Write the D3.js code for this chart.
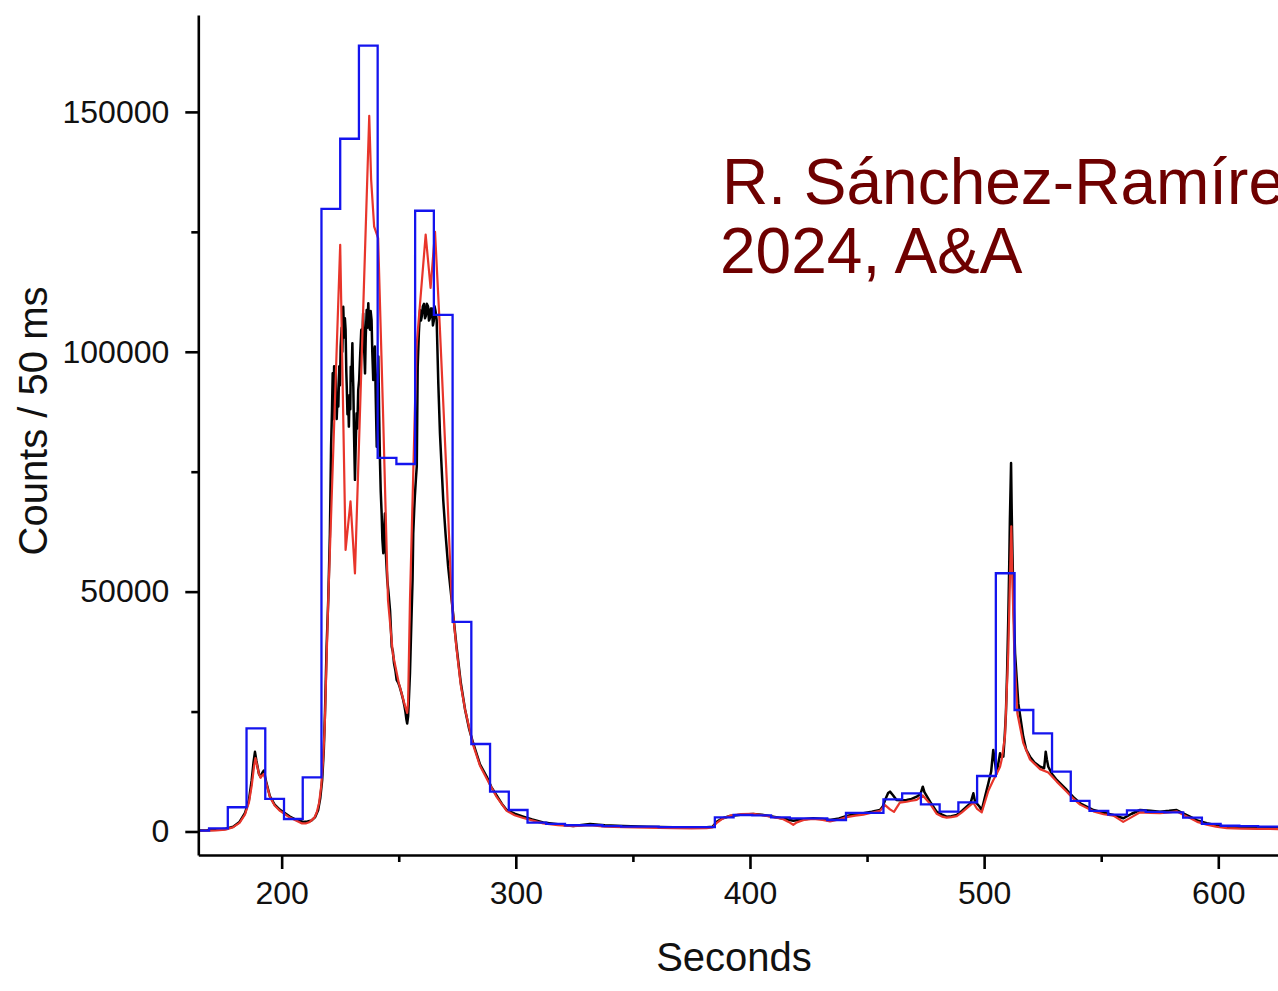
<!DOCTYPE html>
<html>
<head>
<meta charset="utf-8">
<script src="https://cdn.jsdelivr.net/npm/d3@7"></script>
<style>
  body { margin: 0; background: #fff; }
  svg { display: block; font-family: 'Liberation Sans', Arial, sans-serif; }
</style>
</head>
<body>
<svg id="chart" width="1278" height="991"></svg>
<script>
// 8 s binned counts (blue), bin start times
const binStart = [161, 169, 177, 185, 193, 201, 209, 217, 225, 233, 241, 249, 257, 265, 273, 281, 289, 297,
  305, 313, 321, 329, 337, 345, 353, 361, 369, 377, 385, 393, 401, 409, 417, 425, 433, 441, 449, 457,
  465, 473, 481, 489, 497, 505, 513, 521, 529, 537, 545, 553, 561, 569, 577, 585, 593, 601, 609, 617, 625, 633];
const binCounts = [200, 650, 5050, 21500, 6780, 2600, 11300, 129800, 144400, 163800, 77900, 76600, 129400, 107700,
  43700, 18240, 8300, 4480, 1830, 1600, 1300, 1300, 1100, 1000, 1000, 900, 900, 900, 2960, 3440, 3340, 2960,
  2750, 2750, 2400, 3900, 3900, 6700, 7960, 5670, 4130, 6090, 11570, 53830, 25330, 20470, 12470, 6400, 4300,
  3500, 4400, 4100, 4000, 2900, 1600, 1200, 1100, 1000, 1000, 1000];

// 50 ms light curve (black)
const lcTime = [164.4, 168, 172, 175.5, 179.3, 182, 184.3, 186, 187.2, 188.0, 188.6, 189.2, 189.7, 190.3, 191.0,
  191.7, 192.4, 193.3, 195.0, 197, 199.3, 203.5, 206, 209.2, 211, 212.8, 214.3, 215.6, 216.5, 217.3, 218.0,
  218.5, 219.2, 219.9, 220.6, 221.1, 221.5, 221.8, 222.1, 222.4, 222.8, 223.1, 223.5, 223.9, 224.2, 224.6,
  224.9, 225.2, 225.6, 225.9, 226.3, 226.7, 227.0, 227.3, 227.6, 227.8, 228.1, 228.4, 228.7, 229.0, 229.3,
  229.5, 229.8, 230.2, 230.4, 230.6, 230.9, 231.1, 231.3, 231.6, 232.0, 232.3, 232.7, 233.1, 233.5, 234.0,
  234.4, 234.8, 235.2, 235.6, 235.9, 236.3, 236.6, 237.0, 237.3, 237.7, 238.0, 238.4, 238.7, 239.1, 239.4,
  239.8, 240.2, 240.6, 240.9, 241.3, 241.6, 242.0, 242.3, 242.7, 243.0, 243.4, 243.7, 244.1, 244.5, 245.1,
  245.6, 246.3, 247.0, 247.5, 248.0, 248.6, 249.1, 249.8, 250.5, 251.2, 251.9, 252.5, 252.9, 253.3, 253.6,
  254.0, 254.2, 254.8, 255.5, 255.9, 256.2, 256.6, 256.9, 257.4, 257.7, 258.1, 258.6, 259.1, 259.5, 259.9,
  260.3, 260.8, 261.2, 261.6, 262.0, 262.5, 262.9, 263.3, 263.7, 264.2, 264.6, 265.0, 265.3, 265.7, 266.2,
  266.9, 267.6, 268.3, 269.0, 270.0, 271.1, 272.6, 274.7, 276.5, 278.3, 280, 281.8, 284.7, 287.6, 289.5,
  291.8, 294, 296.1, 299.5, 303.2, 307, 311.7, 318, 324.5, 331.7, 338, 345.9, 356, 367.2, 375, 381.5, 384,
  385.8, 388, 391.5, 396, 401.4, 405, 410.0, 414, 418.5, 422, 427.0, 431, 434.2, 438, 441.3, 445, 448.4,
  452, 455.5, 456.7, 457.7, 459.0, 459.8, 461, 462.6, 464.5, 466.9, 469, 471.2, 472.8, 473.8, 474.5, 476.9,
  479.7, 482, 484.0, 486, 488.3, 490.5, 492.5, 494.2, 495.4, 496, 496.8, 498, 499.0, 500.5, 501.8, 503.0,
  503.9, 505.3, 506, 506.8, 507.5, 508.2, 508.8, 509.3, 509.8, 510.3, 510.7, 511.0, 511.3, 511.5, 511.8,
  512.1, 512.4, 513.2, 514.6, 516.7, 518, 519.6, 521.5, 523.9, 525.6, 526.0, 526.3, 526.8, 527.4, 529,
  531.0, 535.3, 538, 541.0, 546.7, 551, 555.2, 559.4, 563, 566.6, 571, 575.1, 579, 582.2, 585, 587.9, 591,
  595.1, 599, 603.6, 610, 617, 625.5];
const lcCounts = [200, 250, 350, 500, 1000, 2000, 3800, 6500, 10700, 14500, 16600, 14800, 13500, 12000, 11400,
  12200, 12700, 10500, 7300, 5600, 4500, 3100, 2500, 2000, 2100, 2300, 3000, 4500, 7000, 10700, 17000,
  24700, 38500, 48300, 62000, 80200, 88000, 95500, 86000, 97000, 89000, 96000, 86000, 91000, 88600, 97000,
  93000, 101100, 105000, 100000, 109400, 103000, 107000, 104600, 96000, 92700, 87000, 90000, 84400, 91000, 88000,
  96900, 94000, 101800, 96000, 92700, 83000, 78000, 73300, 80000, 87200, 84000, 92000, 94100, 99000, 104600,
  101000, 108000, 101000, 95500, 103000, 108700, 105000, 110100, 106000, 104600, 108500, 106600, 100000, 94100, 99000,
  101100, 90000, 80200, 92000, 99000, 88000, 76800, 71000, 66300, 61000, 58000, 62000, 66300, 58000, 52400,
  50000, 46000, 38500, 37500, 35000, 33500, 31600, 31000, 30000, 28800, 27400, 26000, 24800, 23300, 22500,
  24000, 26000, 33000, 45500, 52400, 62200, 67000, 70000, 74000, 76100, 96900, 104000, 108700, 106500, 107500,
  109500, 110000, 107000, 107500, 110000, 109500, 106500, 107000, 109000, 109000, 105500, 106500, 109500, 108500, 106600,
  93400, 83000, 76000, 69100, 62000, 55200, 48300, 38500, 31000, 25500, 21500, 18400, 14000, 11400, 9300,
  7500, 5800, 4500, 3700, 3100, 2500, 1900, 1500, 1150, 1560, 1300, 1150, 1000, 880, 900, 880, 1000,
  2040, 2700, 3230, 3500, 3650, 3500, 3090, 2700, 2260, 2500, 2750, 2600, 2400, 2700, 3230, 3600, 3790,
  4100, 4480, 5200, 6570, 8000, 8300, 7600, 6570, 6500, 6570, 6800, 7260, 7800, 9340, 8200, 6210,
  4130, 3500, 3090, 3200, 3440, 4300, 5170, 5900, 7960, 6500, 5880, 5200, 4480, 7500, 10050, 12500,
  17000, 12100, 14000, 16300, 15500, 15600, 20000, 24600, 33000, 44100, 55000, 65000, 72000, 76800, 66000,
  58000, 51000, 37200, 26700, 19770, 17000, 15600, 14400, 13510, 13180, 15000, 16640, 15000, 13500, 12000,
  10740, 8650, 7200, 5880, 4480, 3900, 3440, 2750, 3700, 4480, 4300, 4130, 4300, 4480, 3800, 3090, 2300,
  1710, 1300, 1000, 850, 750, 670];

// model curve (red)
const modelTime = [164.4, 172, 176, 179.3, 182, 184.3, 186, 187.2, 188.2, 188.8, 189.5, 190.3, 191.0, 191.7, 192.4,
  193.3, 195.0, 197, 199.3, 203.5, 208.5, 210.5, 212.0, 214, 215.0, 216.0, 216.9, 217.7, 218.4, 219.3, 219.9,
  225.0, 227.3, 229.4, 231.3, 237.4, 238.2, 239.5, 241.2, 243.3, 245.4, 247.5, 250.0, 252.5, 253.6, 254.0,
  254.8, 257.6, 261.5, 263.6, 265.5, 267.6, 270.5, 272.6, 274.7, 276.5, 278.3, 281.8, 284.7, 287.6, 291.8,
  296.1, 299.5, 303.2, 311.7, 318, 324.5, 331.7, 338, 345.9, 356, 367.2, 375, 381.5, 384, 385.8, 388, 391.5,
  396, 401.4, 405, 410.0, 414, 416.5, 418.5, 420, 423, 427.0, 431, 434.2, 438, 441.3, 445, 448.4, 452, 455.5,
  457.7, 459.8, 461.5, 464, 466.9, 469, 471.2, 473.8, 476.9, 479.7, 482, 484.0, 486, 488.3, 490.5, 492.5,
  495.4, 497, 499.0, 501.8, 503.9, 505.3, 506.8, 507.5, 508.9, 510.3, 511.0, 511.6, 512.2, 512.9, 514.2,
  516.7, 519.6, 523.9, 527.4, 531.0, 535.3, 538, 541.0, 546.7, 551, 555.2, 559.4, 563, 566.6, 571, 575.1,
  579, 582.2, 585, 587.9, 591, 595.1, 599, 603.6, 610, 617, 625.5];
const modelCounts = [150, 250, 400, 900, 1800, 3500, 6000, 9500, 13500, 15300, 13800, 12000, 11200, 11700, 12000,
  10300, 7200, 5400, 4300, 2900, 1700, 1700, 2000, 2900, 4000, 6000, 9500, 15000, 22000, 38000, 48300,
  122300, 58700, 68800, 53800, 149200, 136000, 126100, 123700, 87200, 48300, 37000, 31000, 26500, 24700, 27000,
  48300, 101100, 124400, 113300, 125000, 104600, 73300, 48300, 38000, 30500, 25500, 18000, 13700, 11000, 7200,
  4300, 3400, 2800, 1700, 1300, 1100, 1300, 1000, 900, 800, 700, 650, 700, 850, 1800, 2600, 3300,
  3600, 3700, 3400, 3000, 2600, 2000, 1400, 1900, 2400, 2600, 2400, 2100, 2500, 3000, 3300, 3500, 3900, 4300,
  5500, 4600, 4100, 6000, 6200, 6400, 6600, 7500, 5800, 3700, 3100, 2900, 3000, 3200, 4000, 4800,
  6000, 4700, 4000, 8500, 10700, 12000, 13500, 15000, 19800, 37200, 52000, 63600, 50000, 37200, 24600,
  18500, 15000, 13000, 12300, 10400, 8300, 6900, 5600, 4200, 3600, 3300, 2000, 3000, 4000, 3900, 3800,
  4000, 4200, 3500, 2800, 2000, 1400, 1000, 700, 600, 550, 500];

const xMajor = [200, 300, 400, 500, 600];
const xMinor = [250, 350, 450, 550];
const yMajor = [0, 50000, 100000, 150000];
const yMinor = [25000, 75000, 125000];

const svg = d3.select('#chart');
const plotLeft = 198.3;
const plotRight = 1278;
const plotTop = 15;
const plotBottom = 855;

const x = d3.scaleLinear().domain([164.4, 625.5]).range([plotLeft, plotRight]);
const y = d3.scaleLinear().domain([-4900, 170200]).range([plotBottom, plotTop]);

svg.append('rect')
  .attr('width', 1278)
  .attr('height', 991)
  .attr('fill', '#fff');

svg.append('clipPath')
  .attr('id', 'plot-clip')
  .append('rect')
  .attr('x', plotLeft)
  .attr('y', plotTop)
  .attr('width', plotRight - plotLeft)
  .attr('height', plotBottom - plotTop);

const plot = svg.append('g').attr('clip-path', 'url(#plot-clip)');

const line = d3.line()
  .x(d => x(d[0]))
  .y(d => y(d[1]));

const stepLine = d3.line()
  .x(d => x(d[0]))
  .y(d => y(d[1]))
  .curve(d3.curveStepAfter);

plot.append('path')
  .datum(lcTime.map((t, i) => [t, lcCounts[i]]))
  .attr('fill', 'none')
  .attr('stroke', '#000')
  .attr('stroke-width', 2.5)
  .attr('stroke-linejoin', 'round')
  .attr('d', line);

plot.append('path')
  .datum(modelTime.map((t, i) => [t, modelCounts[i]]))
  .attr('fill', 'none')
  .attr('stroke', '#e8352b')
  .attr('stroke-width', 2.2)
  .attr('stroke-linejoin', 'round')
  .attr('d', line);

plot.append('path')
  .datum(binStart.map((t, i) => [t, binCounts[i]]))
  .attr('fill', 'none')
  .attr('stroke', '#1414ee')
  .attr('stroke-width', 2.3)
  .attr('d', stepLine);

// axes
const styleAxis = g => {
  g.select('.domain').attr('stroke', '#000').attr('stroke-width', 2.6);
  g.selectAll('.tick line').attr('stroke', '#000').attr('stroke-width', 2.6);
  g.selectAll('.tick text')
    .attr('fill', '#111')
    .style('font-size', '32px')
    .style('font-family', "'Liberation Sans', Arial, sans-serif");
};

svg.append('g')
  .attr('transform', `translate(0,${plotBottom})`)
  .call(d3.axisBottom(x).tickValues(xMinor).tickSize(7).tickFormat(''))
  .call(g => g.select('.domain').remove())
  .call(styleAxis);

svg.append('g')
  .attr('transform', `translate(0,${plotBottom})`)
  .call(d3.axisBottom(x).tickValues(xMajor).tickSize(14).tickSizeOuter(0).tickPadding(12).tickFormat(d3.format('d')))
  .call(styleAxis);

svg.append('g')
  .attr('transform', `translate(${plotLeft},0)`)
  .call(d3.axisLeft(y).tickValues(yMinor).tickSize(7).tickFormat(''))
  .call(g => g.select('.domain').remove())
  .call(styleAxis);

svg.append('g')
  .attr('transform', `translate(${plotLeft},0)`)
  .call(d3.axisLeft(y).tickValues(yMajor).tickSize(13).tickSizeOuter(0).tickPadding(16).tickFormat(d3.format('d')))
  .call(styleAxis);

svg.append('text')
  .attr('x', 734)
  .attr('y', 971)
  .attr('text-anchor', 'middle')
  .attr('fill', '#111')
  .style('font-size', '40px')
  .text('Seconds');

svg.append('text')
  .attr('transform', 'translate(47,421) rotate(-90)')
  .attr('text-anchor', 'middle')
  .attr('fill', '#111')
  .style('font-size', '40px')
  .text('Counts / 50 ms');

// annotation runs past the right edge, as in the source figure
const note = svg.append('text')
  .attr('fill', '#6e0000')
  .style('font-size', '64px');
note.append('tspan').attr('x', 722).attr('y', 204).text('R. Sánchez-Ramírez');
note.append('tspan').attr('x', 720).attr('y', 273).text('2024, A&A');
</script>
</body>
</html>
